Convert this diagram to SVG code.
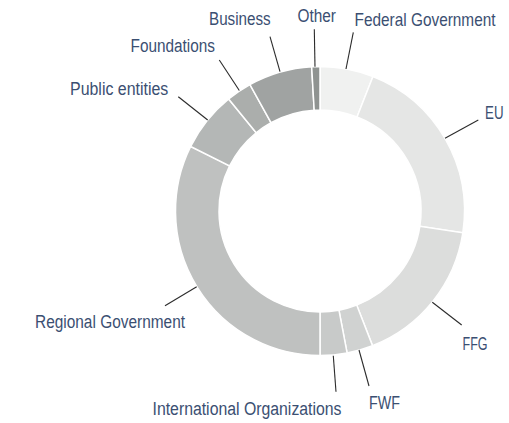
<svg xmlns="http://www.w3.org/2000/svg" width="509" height="423" viewBox="0 0 509 423">
<style>
.seg{stroke:#ffffff;stroke-width:1.5;stroke-linejoin:miter}
.lbl{font-family:"Liberation Sans","Arial",sans-serif;font-size:18px;fill:#3b4f72}
.lead{stroke:#2b2b2b;stroke-width:1.1;fill:none}
</style>
<rect width="509" height="423" fill="#ffffff"/>
<g id="ring">
<g id="seg-federal"><path class="seg" fill="#f0f1f0" d="M320,66.5 A144.5,144.5 0 0 1 372.96,76.56 L357.02,117.03 A101,101 0 0 0 320,110 Z"/></g>
<g id="seg-eu"><path class="seg" fill="#e5e6e5" d="M372.96,76.56 A144.5,144.5 0 0 1 462.84,232.86 L419.84,226.28 A101,101 0 0 0 357.02,117.03 Z"/></g>
<g id="seg-ffg"><path class="seg" fill="#dcdddc" d="M462.84,232.86 A144.5,144.5 0 0 1 372.49,345.63 L356.69,305.10 A101,101 0 0 0 419.84,226.28 Z"/></g>
<g id="seg-fwf"><path class="seg" fill="#d0d2d1" d="M372.49,345.63 A144.5,144.5 0 0 1 347.08,352.94 L338.93,310.21 A101,101 0 0 0 356.69,305.10 Z"/></g>
<g id="seg-intl"><path class="seg" fill="#c8cac9" d="M347.08,352.94 A144.5,144.5 0 0 1 320,355.5 L320,312 A101,101 0 0 0 338.93,310.21 Z"/></g>
<g id="seg-regional"><path class="seg" fill="#bfc1c0" d="M320,355.5 A144.5,144.5 0 0 1 190.68,146.52 L229.61,165.93 A101,101 0 0 0 320,312 Z"/></g>
<g id="seg-public"><path class="seg" fill="#b4b7b6" d="M190.68,146.52 A144.5,144.5 0 0 1 228.67,99.02 L256.17,132.73 A101,101 0 0 0 229.61,165.93 Z"/></g>
<g id="seg-foundations"><path class="seg" fill="#abaeac" d="M228.67,99.02 A144.5,144.5 0 0 1 249.94,84.62 L271.03,122.66 A101,101 0 0 0 256.17,132.73 Z"/></g>
<g id="seg-business"><path class="seg" fill="#a0a3a2" d="M249.94,84.62 A144.5,144.5 0 0 1 311.68,66.74 L314.19,110.17 A101,101 0 0 0 271.03,122.66 Z"/></g>
<g id="seg-other"><path class="seg" fill="#8f9391" d="M311.68,66.74 A144.5,144.5 0 0 1 320,66.5 L320,110 A101,101 0 0 0 314.19,110.17 Z"/></g>
</g>
<g id="connectors">
<line class="lead" x1="353.3" y1="32.3" x2="346" y2="69"/>
<line class="lead" x1="478.3" y1="120" x2="445" y2="138.3"/>
<line class="lead" x1="432.3" y1="302.3" x2="461.7" y2="325"/>
<line class="lead" x1="359" y1="350" x2="369" y2="386"/>
<line class="lead" x1="333.3" y1="355.7" x2="336" y2="391.7"/>
<line class="lead" x1="196.7" y1="286.7" x2="165" y2="305.7"/>
<line class="lead" x1="178.3" y1="96.7" x2="207.7" y2="120"/>
<line class="lead" x1="219.3" y1="60" x2="239.3" y2="90.5"/>
<line class="lead" x1="270" y1="36.7" x2="280" y2="71.7"/>
<line class="lead" x1="314.3" y1="29.3" x2="315" y2="66.7"/>
</g>
<g id="label-federal"><text class="lbl" x="0" y="0" transform="translate(354.5 25.7) scale(0.855 1)" textLength="165" lengthAdjust="spacingAndGlyphs">Federal Government</text></g>
<g id="label-eu"><text class="lbl" x="485" y="119.3" textLength="18.5" lengthAdjust="spacingAndGlyphs">EU</text></g>
<g id="label-ffg"><text class="lbl" x="462.5" y="350" textLength="25" lengthAdjust="spacingAndGlyphs">FFG</text></g>
<g id="label-fwf"><text class="lbl" x="369" y="409" textLength="31" lengthAdjust="spacingAndGlyphs">FWF</text></g>
<g id="label-intl"><text class="lbl" x="152.5" y="415" textLength="189" lengthAdjust="spacingAndGlyphs">International Organizations</text></g>
<g id="label-regional"><text class="lbl" x="35" y="328.3" textLength="150" lengthAdjust="spacingAndGlyphs">Regional Government</text></g>
<g id="label-public"><text class="lbl" x="70" y="95" textLength="98.3" lengthAdjust="spacingAndGlyphs">Public entities</text></g>
<g id="label-foundations"><text class="lbl" x="130.5" y="51.7" textLength="84.5" lengthAdjust="spacingAndGlyphs">Foundations</text></g>
<g id="label-business"><text class="lbl" x="209" y="25" textLength="61.7" lengthAdjust="spacingAndGlyphs">Business</text></g>
<g id="label-other"><text class="lbl" x="297.5" y="21.7" textLength="38.5" lengthAdjust="spacingAndGlyphs">Other</text></g>
</svg>
